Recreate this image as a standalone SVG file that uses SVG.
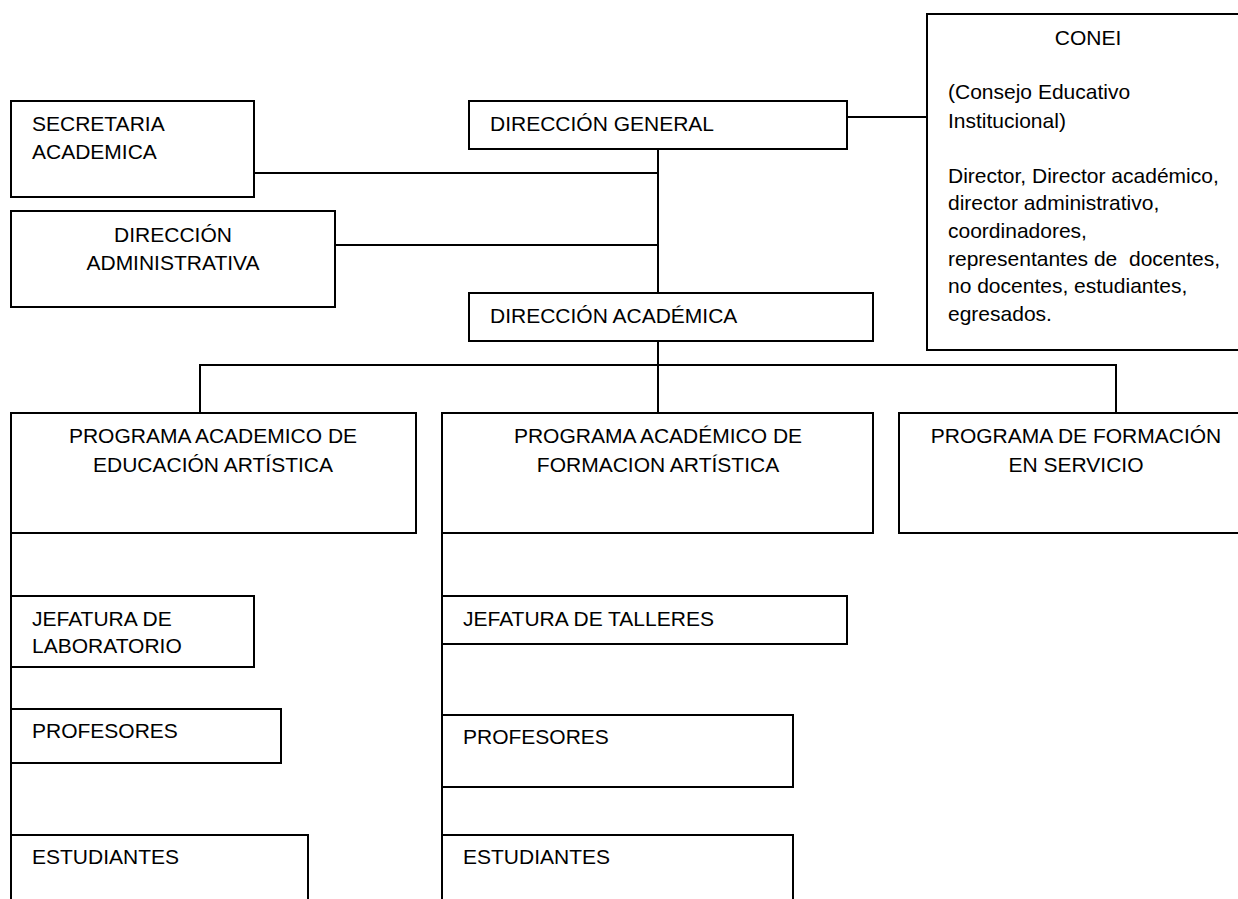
<svg xmlns="http://www.w3.org/2000/svg" width="1238" height="899" viewBox="0 0 1238 899">
<style>
rect{fill:#fff;stroke:#000;stroke-width:2}
line{stroke:#000;stroke-width:2}
text{font-family:"Liberation Sans",Arial,sans-serif;font-size:21px;fill:#000}
.c{text-anchor:middle}
</style>
<rect x="0" y="0" width="1238" height="899" style="stroke:none"/>
<g id="connectors">
<line x1="658" y1="149" x2="658" y2="293"/>
<line x1="254" y1="173" x2="658" y2="173"/>
<line x1="335" y1="245" x2="658" y2="245"/>
<line x1="847" y1="117" x2="927" y2="117"/>
<line x1="658" y1="341" x2="658" y2="413"/>
<line x1="200" y1="365" x2="1116" y2="365"/>
<line x1="200" y1="364" x2="200" y2="413"/>
<line x1="1116" y1="364" x2="1116" y2="413"/>
<line x1="11" y1="533" x2="11" y2="899"/>
<line x1="442" y1="533" x2="442" y2="899"/>
</g>
<g id="secretaria">
<rect x="11" y="101" width="243" height="96"/>
<text x="32" y="131">SECRETARIA</text>
<text x="32" y="159">ACADEMICA</text>
</g>
<g id="dir-admin">
<rect x="11" y="211" width="324" height="96"/>
<text class="c" x="173" y="242">DIRECCIÓN</text>
<text class="c" x="173" y="270">ADMINISTRATIVA</text>
</g>
<g id="dir-general">
<rect x="469" y="101" width="378" height="48"/>
<text x="490" y="131">DIRECCIÓN GENERAL</text>
</g>
<g id="dir-academica">
<rect x="469" y="293" width="404" height="48"/>
<text x="490" y="323">DIRECCIÓN ACADÉMICA</text>
</g>
<g id="conei">
<rect x="927" y="14" width="330" height="336"/>
<text class="c" x="1088" y="45">CONEI</text>
<text x="948" y="99">(Consejo Educativo</text>
<text x="948" y="128">Institucional)</text>
<text x="948" y="183">Director, Director académico,</text>
<text x="948" y="210">director administrativo,</text>
<text x="948" y="238">coordinadores,</text>
<text x="948" y="266" xml:space="preserve">representantes de  docentes,</text>
<text x="948" y="293">no docentes, estudiantes,</text>
<text x="948" y="321">egresados.</text>
</g>
<g id="prog-educacion">
<rect x="11" y="413" width="405" height="120"/>
<text class="c" x="213" y="443">PROGRAMA ACADEMICO DE</text>
<text class="c" x="213" y="472">EDUCACIÓN ARTÍSTICA</text>
</g>
<g id="prog-formacion">
<rect x="442" y="413" width="431" height="120"/>
<text class="c" x="658" y="443">PROGRAMA ACADÉMICO DE</text>
<text class="c" x="658" y="472">FORMACION ARTÍSTICA</text>
</g>
<g id="prog-servicio">
<rect x="899" y="413" width="360" height="120"/>
<text class="c" x="1076" y="443">PROGRAMA DE FORMACIÓN</text>
<text class="c" x="1076" y="472">EN SERVICIO</text>
</g>
<g id="jef-lab">
<rect x="11" y="596" width="243" height="71"/>
<text x="32" y="626">JEFATURA DE</text>
<text x="32" y="653">LABORATORIO</text>
</g>
<g id="prof-1">
<rect x="11" y="709" width="270" height="54"/>
<text x="32" y="738">PROFESORES</text>
</g>
<g id="est-1">
<rect x="11" y="835" width="297" height="80"/>
<text x="32" y="864">ESTUDIANTES</text>
</g>
<g id="jef-talleres">
<rect x="442" y="596" width="405" height="48"/>
<text x="463" y="626">JEFATURA DE TALLERES</text>
</g>
<g id="prof-2">
<rect x="442" y="715" width="351" height="72"/>
<text x="463" y="744">PROFESORES</text>
</g>
<g id="est-2">
<rect x="442" y="835" width="351" height="80"/>
<text x="463" y="864">ESTUDIANTES</text>
</g>
</svg>
